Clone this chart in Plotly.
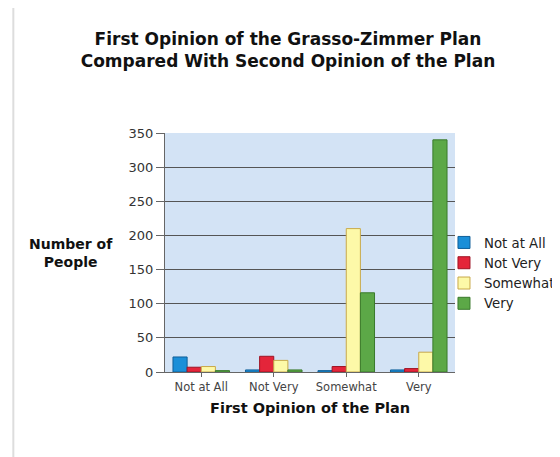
import plotly.graph_objects as go

categories = ["Not at All", "Not Very", "Somewhat", "Very"]
series_names = ["Not at All", "Not Very", "Somewhat", "Very"]
not_at_all = [22, 3, 2, 3]
not_very = [7, 23, 8, 5]
somewhat = [8, 17, 210, 29]
very = [2, 3, 116, 340]
colors = ["#1b8fd8", "#e4253a", "#fdf9a8", "#5ca847"]
edge_colors = ["#0f5f99", "#9e1424", "#c8a94a", "#3a7a2c"]

fig = go.Figure()
for name, vals, c, e in zip(series_names, [not_at_all, not_very, somewhat, very], colors, edge_colors):
    fig.add_trace(go.Bar(name=name, x=categories, y=vals,
                         marker=dict(color=c, line=dict(color=e, width=1))))

fig.update_layout(
    width=560, height=457,
    margin=dict(l=157, r=113, t=125, b=93, autoexpand=False),
    paper_bgcolor="white",
    plot_bgcolor="#d3e3f5",
    font=dict(family="DejaVu Sans", color="#222"),
    barmode="group", bargap=0.22, bargroupgap=0.0,
    title=dict(text="<b>First Opinion of the Grasso-Zimmer Plan<br>Compared With Second Opinion of the Plan</b>",
               x=0.5, xanchor="center", y=0.92, yanchor="top",
               font=dict(size=17, color="#111")),
    legend=dict(x=0.962, y=0.413, xanchor="left", yanchor="middle",
                font=dict(size=13.3, color="#222"), itemwidth=30,
                bgcolor="rgba(0,0,0,0)", tracegroupgap=0),
    xaxis=dict(showline=True, linecolor="#666", ticks="outside", ticklen=4,
               tickcolor="#666", tickfont=dict(size=11.5, color="#444")),
    yaxis=dict(range=[0, 350], dtick=50, showgrid=True, gridcolor="#555",
               gridwidth=1, showline=True, linecolor="#666", ticks="outside",
               ticklen=8, tickcolor="#666", tickfont=dict(size=13, color="#333"),
               zeroline=False),
    annotations=[
        dict(text="<b>Number of<br>People</b>", x=-0.324, y=0.50, xref="paper", yref="paper",
             xanchor="center", yanchor="middle",
             showarrow=False, font=dict(size=14, color="#111"), align="center"),
        dict(text="<b>First Opinion of the Plan</b>", x=0.5, y=-0.15, xref="paper", yref="paper",
             xanchor="center", yanchor="middle",
             showarrow=False, font=dict(size=14.5, color="#111")),
    ],
    shapes=[
        dict(type="line", xref="paper", yref="paper", x0=-0.523, x1=-0.523, y0=-0.40, y1=1.56,
             line=dict(color="#dddddd", width=2)),
    ],
)

fig.write_html("out.html")
